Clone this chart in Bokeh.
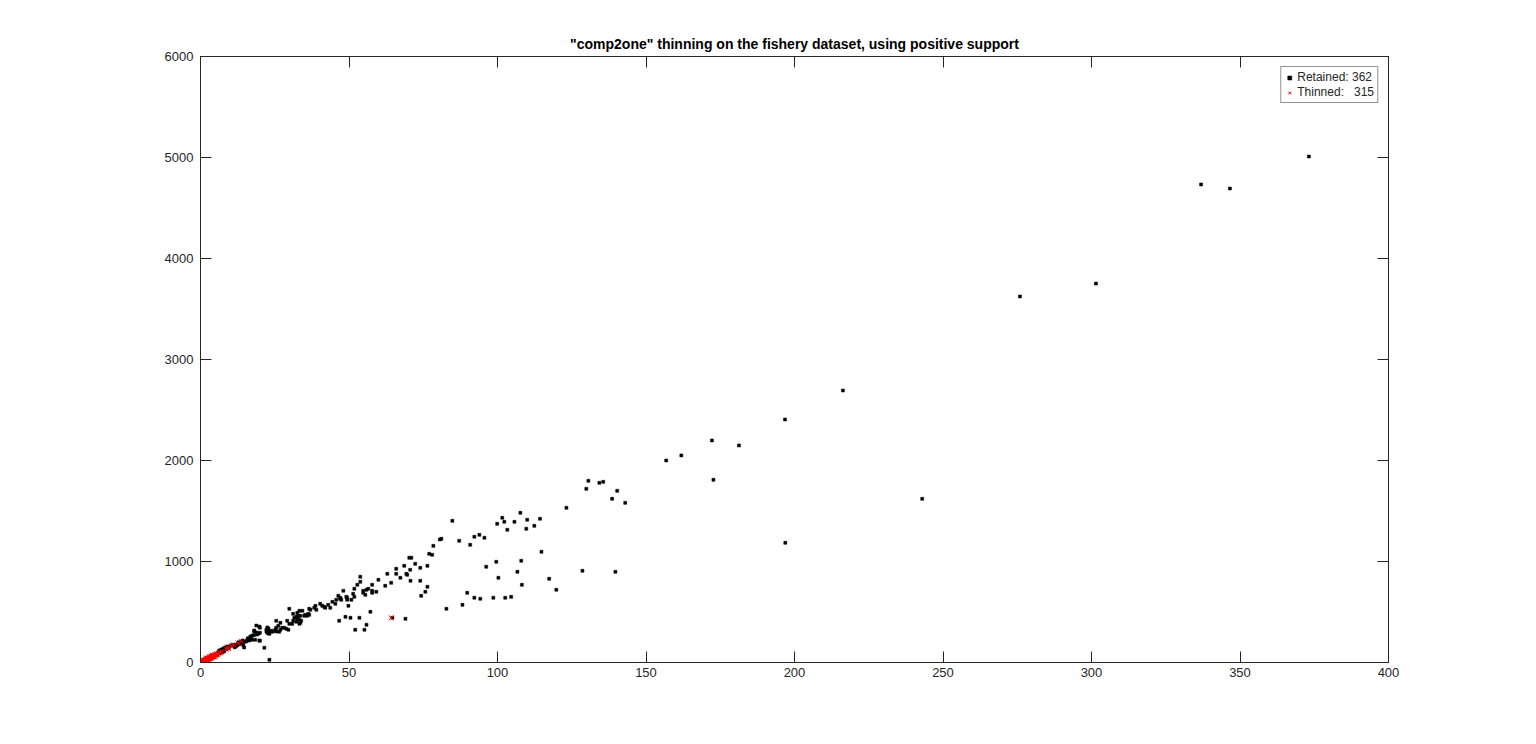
from bokeh.plotting import figure
from bokeh.models import LinearAxis, FixedTicker, Range1d, Legend, LegendItem, ColumnDataSource
from bokeh.embed import file_html
from bokeh.resources import INLINE

TITLE = '"comp2one" thinning on the fishery dataset, using positive support'
X_TICKS = [0, 50, 100, 150, 200, 250, 300, 350, 400]
Y_TICKS = [0, 1000, 2000, 3000, 4000, 5000, 6000]

retained_x = [
    373.2, 336.9, 346.6, 275.9, 301.5, 216.3, 196.8, 181.3, 172.2, 172.7, 161.9, 156.8, 243.0, 196.9,
    130.6, 134.3, 135.6, 129.9, 140.3, 138.6, 143.0, 123.2, 114.3, 114.8, 128.6, 139.7, 117.4, 119.8,
    84.8, 80.6, 81.1, 87.1, 90.8, 92.2, 93.9, 95.6, 101.6, 99.9, 102.3, 103.3, 105.7, 107.7, 110.0, 109.7, 112.4,
    96.2, 99.6, 108.0, 100.3, 106.7, 108.2, 89.8, 92.2, 94.2, 98.6, 102.6, 104.6, 88.2, 82.8,
    78.4, 77.0, 78.0, 70.3, 71.0, 72.3, 68.6, 74.0, 76.4, 65.9, 70.6, 62.9, 65.9, 69.3, 69.6, 67.3, 59.9, 64.2,
    70.7, 74.0, 53.8, 53.8, 52.8, 57.8, 62.2, 76.4, 75.7, 74.3, 51.8, 54.8, 54.8, 55.9, 56.5, 57.8, 57.8, 59.2,
    55.5, 48.1, 51.4, 51.8, 49.4, 49.4, 47.0, 47.4, 50.8, 49.8, 57.2, 48.8, 50.5, 53.5, 64.6, 69.0, 55.9, 52.1, 55.2,
    46.4, 47.1, 49.1, 45.7, 44.4, 45.4, 43.0, 43.7, 41.7, 42.0, 40.3, 41.0, 38.7, 39.0, 38.3, 36.6, 37.0, 36.3,
    35.3, 35.9, 36.6, 34.9, 29.9, 31.2, 32.6, 33.3, 34.3, 31.6, 32.3, 32.9, 33.6, 32.6, 33.3, 33.9, 33.6, 32.3,
    31.2, 33.3, 30.9, 29.9, 29.2, 25.5, 26.9, 26.2, 25.5, 27.5, 28.2, 28.9, 29.6, 26.9, 25.2, 26.5, 22.9, 23.9,
    24.2, 22.9, 22.2, 22.5, 23.2, 20.0, 20.0, 20.0, 21.5, 46.7,
    18.8, 19.8, 22.5, 22.7, 22.2, 22.7, 22.9, 25.2, 25.5, 18.1, 18.8, 19.1, 19.5, 16.8, 17.4, 19.8, 15.8, 16.4,
    15.1, 14.4, 13.7, 13.1, 12.4, 11.7, 11.0, 10.4, 9.7, 9.0, 8.3, 7.7, 7.0, 6.3, 23.2,
    18.1, 18.4, 17.3, 14.2, 14.7, 14.4, 12.3, 8.0, 7.3, 6.5, 5.6, 4.4, 3.3, 2.2, 1.1,
    9.5, 10.8, 12.0, 13.5, 11.5, 8.7, 7.5, 6.0, 5.0, 4.0, 3.0, 2.5, 16.0, 15.5, 17.0, 18.0, 14.0, 13.0, 12.8, 16.2,
]
retained_y = [
    5010, 4733, 4693, 3624, 3752, 2693, 2406, 2149, 2198, 1809, 2050, 2000, 1621, 1185,
    1799, 1779, 1789, 1720, 1700, 1621, 1581, 1532, 1423, 1096, 908, 898, 829, 720,
    1403, 1218, 1225, 1205, 1165, 1245, 1264, 1235, 1433, 1373, 1393, 1314, 1393, 1482, 1413, 1324, 1353,
    948, 997, 1007, 839, 898, 769, 690, 641, 631, 641, 641, 650, 571, 532,
    1155, 1076, 1066, 1037, 1037, 977, 957, 937, 957, 928, 918, 878, 878, 878, 868, 839, 819, 789,
    809, 809, 849, 799, 769, 769, 759, 750, 700, 660, 730, 710, 690, 720, 730, 710, 690, 700,
    670, 710, 680, 650, 641, 621, 631, 621, 621, 561, 502, 452, 443, 443, 443, 433, 373, 324, 324,
    660, 641, 650, 621, 601, 581, 571, 542, 551, 542, 581, 561, 561, 522, 542, 532, 522, 482,
    472, 462, 472, 462, 532, 482, 492, 512, 512, 443, 452, 462, 462, 433, 423, 413, 393, 403,
    413, 383, 383, 383, 413, 413, 393, 363, 344, 344, 344, 334, 324, 324, 314, 304, 334, 314,
    304, 304, 324, 294, 284, 344, 294, 215, 146, 413,
    366, 356, 347, 337, 307, 297, 287, 327, 307, 307, 297, 277, 287, 257, 267, 218, 228, 218,
    208, 198, 208, 188, 178, 178, 168, 168, 158, 158, 149, 139, 129, 119, 27,
    317, 225, 225, 218, 149, 171, 171, 112, 102, 92, 76, 56, 40, 30, 20,
    140, 175, 160, 190, 150, 130, 120, 100, 80, 70, 50, 40, 240, 210, 250, 270, 200, 180, 200, 230,
]

thinned_x = [
    0.1, 0.2, 0.3, 0.4, 0.5, 0.6, 0.7, 0.8, 0.9, 1.0, 1.1, 1.2, 1.3, 1.4, 1.5, 1.6, 1.7, 1.8, 1.9, 2.0,
    2.1, 2.2, 2.3, 2.4, 2.5, 2.6, 2.7, 2.8, 2.9, 3.0, 3.1, 3.2, 3.3, 3.4, 3.5, 3.6, 3.7, 3.8, 3.9, 4.0,
    4.2, 4.4, 4.6, 4.8, 5.0, 5.3, 5.6, 6.0, 6.4, 6.8, 0.3, 0.6, 1.0, 1.5, 2.0, 2.5, 3.0, 3.5, 4.0, 4.5,
    8.8, 9.5, 10.4, 12.7, 13.7, 64.2, 0.2, 0.8, 1.8, 2.2, 3.97, 5.5, 4.9, 7.2, 9.0, 11.2,
]
thinned_y = [
    2, 5, 3, 8, 6, 10, 9, 12, 14, 11, 16, 18, 15, 20, 22, 19, 25, 24, 28, 26,
    30, 33, 29, 35, 37, 34, 40, 38, 43, 41, 46, 44, 49, 47, 52, 55, 50, 57, 60, 58,
    62, 66, 64, 70, 72, 78, 82, 88, 95, 100, 12, 4, 22, 12, 36, 28, 55, 42, 70, 55,
    131, 140, 165, 191, 208, 443, 18, 3, 12, 45, 69, 85, 76, 110, 151, 172,
]

TXT = "#262626"
FONT = "Liberation Sans"

p = figure(width=1528, height=736, output_backend="svg", toolbar_location=None,
           x_range=Range1d(0, 400), y_range=Range1d(0, 6000),
           min_border_left=200, min_border_right=140, min_border_top=56, min_border_bottom=74,
           background_fill_color="white", border_fill_color="white")

p.title.text = TITLE
p.title.align = "center"
p.title.text_font = FONT
p.title.text_font_size = "14px"
p.title.text_font_style = "bold"
p.title.text_color = "#000000"

p.xgrid.grid_line_color = None
p.ygrid.grid_line_color = None
p.outline_line_color = TXT

def style_axis(ax, ticks, show_labels=True):
    ax.ticker = FixedTicker(ticks=ticks)
    ax.axis_line_color = TXT
    ax.major_tick_line_color = TXT
    ax.major_tick_in = 11
    ax.major_tick_out = 0
    ax.minor_tick_line_color = None
    ax.major_label_text_font = FONT
    ax.major_label_text_font_size = "13px"
    ax.major_label_text_color = TXT
    if not show_labels:
        ax.major_label_text_color = None
        ax.major_label_text_font_size = "0px"
        ax.major_label_standoff = 0

style_axis(p.xaxis[0], X_TICKS)
style_axis(p.yaxis[0], Y_TICKS)
p.xaxis[0].major_label_standoff = 5
p.yaxis[0].major_label_standoff = 7

top = LinearAxis()
style_axis(top, X_TICKS, show_labels=False)
p.add_layout(top, "above")
right = LinearAxis()
style_axis(right, Y_TICKS, show_labels=False)
p.add_layout(right, "right")

src_r = ColumnDataSource(dict(x=retained_x, y=retained_y))
src_t = ColumnDataSource(dict(x=thinned_x, y=thinned_y))
r1 = p.scatter("x", "y", source=src_r, marker="square", size=3, fill_color="black", line_color="black", line_width=0.5)
r2 = p.scatter("x", "y", source=src_t, marker="x", size=7, line_color="#ff0000", line_width=1)

legend = Legend(items=[LegendItem(label="Retained: 362", renderers=[r1]),
                       LegendItem(label="Thinned:   315", renderers=[r2])],
                location="top_right")
legend.margin = 10
legend.padding = 3
legend.spacing = 1
legend.label_text_font = FONT
legend.label_text_font_size = "12px"
legend.label_text_color = TXT
legend.label_height = 13
legend.glyph_height = 13
legend.glyph_width = 10
legend.label_standoff = 3
legend.border_line_color = TXT
legend.background_fill_color = "white"
p.add_layout(legend)

open("out.html", "w").write(file_html(p, INLINE))
